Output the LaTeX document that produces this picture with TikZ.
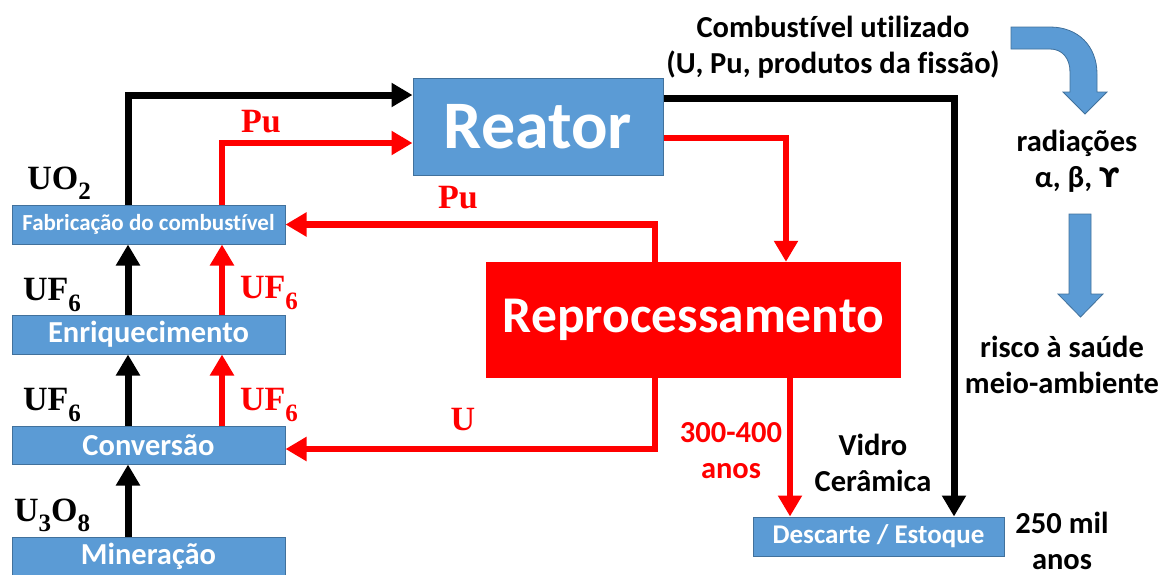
\documentclass[tikz,border=0pt]{standalone}
\usepackage{fontspec}
\setmainfont{Carlito}[Ligatures=NoCommon]
\newfontfamily\chemfont{Liberation Serif}
\newfontfamily\dejavu{DejaVu Sans}
\usetikzlibrary{arrows.meta,calc}
\definecolor{boxblue}{RGB}{91,155,213}
\definecolor{boxedge}{RGB}{65,113,156}
\definecolor{pured}{RGB}{255,0,0}
\newcommand{\chsub}[1]{\raisebox{-0.3em}{\fontsize{25}{25}\selectfont #1}}
\begin{document}
\begin{tikzpicture}[x=1pt,y=-1pt,
  bluebox/.style={draw=boxedge, line width=1pt, fill=boxblue, text=white, inner sep=0pt},
  sidebox/.style={bluebox, minimum width=273pt, minimum height=39pt, font=\fontsize{30.5}{32}\selectfont\bfseries},
  blkarrow/.style={draw=black, line width=7pt, -{Triangle[length=21pt,width=23pt]}},
  redarrow/.style={draw=pured, line width=6.5pt, -{Triangle[length=21pt,width=23pt]}},
  lbl/.style={inner sep=0pt, font=\fontsize{30.5}{36}\selectfont\bfseries, align=center},
  chem/.style={inner sep=0pt, font=\chemfont\fontsize{34}{36}\selectfont\bfseries},
  bigarrow/.style={draw=boxedge, line width=0.8pt, fill=boxblue}
]
\useasboundingbox (0,0) rectangle (1160,574);

% boxes
\node[sidebox, font=\fontsize{23}{25}\selectfont\bfseries] (fab) at (148.5,224.5) {Fabricação do combustível};
\node[sidebox] (enr) at (148.5,334.5) {Enriquecimento};
\node[sidebox, minimum height=38pt] (conv) at (148.5,445) {Conversão};
\node[sidebox] (min) at (148.5,556.5) {Mineração};
\node[bluebox, minimum width=250pt, minimum height=97pt, font=\fontsize{68}{72}\selectfont\bfseries] (reator) at (538,126.5) {Reator};
\node[fill=pured, text=white, inner sep=0pt, minimum width=415pt, minimum height=116pt, font=\fontsize{51.5}{55}\selectfont\bfseries] (rep) at (693.5,320) {Reprocessamento};
\node[bluebox, minimum width=251pt, minimum height=39pt, font=\fontsize{27}{29}\selectfont\bfseries] (desc) at (878.5,536.5) {Descarte / Estoque};

% lane coordinates
\coordinate (xb) at (128,0);
\coordinate (xr) at (222,0);
\coordinate (yb) at (0,95);
\coordinate (yr) at (0,143);
\coordinate (xk) at (954,0);
\coordinate (yk) at (0,98);
\coordinate (xrr) at (786,0);
\coordinate (yrr) at (0,138);
\coordinate (xpu) at (655,0);
\coordinate (yu) at (0,449);
\coordinate (xd) at (790,0);

% black flow
\draw[blkarrow] (min.north -| xb) -- (conv.south -| xb);
\draw[blkarrow] (conv.north -| xb) -- (enr.south -| xb);
\draw[blkarrow] (enr.north -| xb) -- (fab.south -| xb);
\draw[blkarrow] (fab.north -| xb) |- (reator.west |- yb);
\draw[blkarrow] (reator.east |- yk) -| (desc.north -| xk);

% red flow
\draw[redarrow] (conv.north -| xr) -- (enr.south -| xr);
\draw[redarrow] (enr.north -| xr) -- (fab.south -| xr);
\draw[redarrow] (fab.north -| xr) |- (reator.west |- yr);
\draw[redarrow] (reator.east |- yrr) -| (rep.north -| xrr);
\draw[redarrow] (rep.north -| xpu) |- (fab.east);
\draw[redarrow] (rep.south -| xpu) |- (conv.east |- yu);
\draw[redarrow] (rep.south -| xd) -- (desc.north -| xd);

% chemical labels
\node[chem] (uo2) at (59,183) {UO\chsub{2}};
\node[chem] (uf6a) at (52,295) {UF\chsub{6}};
\node[chem, text=pured] (uf6b) at (269,293) {UF\chsub{6}};
\node[chem] (uf6c) at (52,405) {UF\chsub{6}};
\node[chem, text=pured] (uf6d) at (269,405) {UF\chsub{6}};
\node[chem] (u3o8) at (52,515) {U\chsub{3}O\chsub{8}};
\node[chem, text=pured] (pu1) at (261,122) {Pu};
\node[chem, text=pured] (pu2) at (458,198) {Pu};
\node[chem, text=pured] (u1) at (463,420) {U};

% text labels
\node[lbl] (comb) at (833,47) {Combustível utilizado\\(U, Pu, produtos da fissão)};
\node[lbl] (rad) at (1077,161) {radiações\\α, β, {\dejavu\bfseries\fontsize{27}{30}\selectfont ϒ}};
\node[lbl] (risco) at (1062,365) {risco à saúde\\meio-ambiente};
\node[lbl, text=pured] (anos1) at (731,451) {300-400\\anos};
\node[lbl] (vidro) at (873,463) {Vidro\\Cerâmica};
\node[lbl] (mil) at (1062,541) {250 mil\\anos};

% blue arrows
\draw[bigarrow] (1011,27) -- (1050,27) .. controls (1078,27) and (1097,46) .. (1097,74)
  -- (1097,92) -- (1107,92) -- (1085,114) -- (1063,92) -- (1070,92) -- (1070,72)
  .. controls (1070,58) and (1062,49) .. (1050,49) -- (1011,49) -- cycle;
\draw[bigarrow] (1069,214) -- (1091,214) -- (1091,294) -- (1103,294) -- (1080.5,317)
  -- (1058,294) -- (1069,294) -- cycle;
\end{tikzpicture}
\end{document}
